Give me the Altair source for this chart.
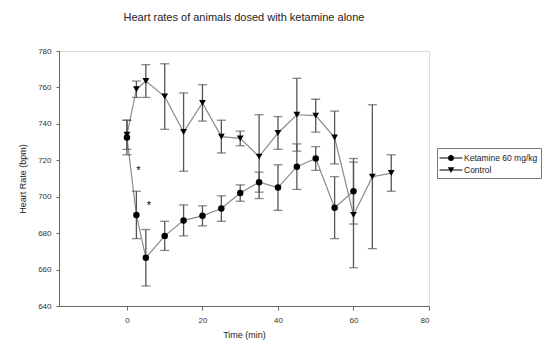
import altair as alt
import pandas as pd

# ---- data ----
ket_time = [0, 2.5, 5, 10, 15, 20, 25, 30, 35, 40, 45, 50, 55, 60]
ket_mean = [732.5, 690, 666.5, 678.5, 687, 689.5, 693.5, 702, 708, 705, 716.5, 721, 694, 703]
ket_err = [9.5, 13, 15.5, 8, 8.5, 5.5, 7, 4.5, 5.5, 12.5, 12.5, 6.5, 17, 18]

ctl_time = [0, 2.5, 5, 10, 15, 20, 25, 30, 35, 40, 45, 50, 55, 60, 65, 70]
ctl_mean = [734, 759, 763.5, 755, 735.5, 751.5, 733, 732, 722, 735, 745, 744.5, 732.5, 690, 711, 713]
ctl_err = [8, 4.5, 9, 18, 21.5, 10, 9, 4, 23, 9, 20, 9, 14.5, 29, 39.5, 10]

series_names = ["Ketamine 60 mg/kg", "Control"]
star_time = [3, 5.8]
star_value = [714, 695]

rows = []
for t, m, e in zip(ket_time, ket_mean, ket_err):
    rows.append({"time": t, "hr": m, "lo": m - e, "hi": m + e, "series": series_names[0]})
for t, m, e in zip(ctl_time, ctl_mean, ctl_err):
    rows.append({"time": t, "hr": m, "lo": m - e, "hi": m + e, "series": series_names[1]})
df = pd.DataFrame(rows)
stars = pd.DataFrame({"time": star_time, "hr": star_value, "txt": ["*", "*"]})

FONT = "Liberation Sans"

xs = alt.Scale(domain=[-18, 80], nice=False, zero=False)
ys = alt.Scale(domain=[640, 780], nice=False, zero=False)

x_axis = alt.Axis(values=[0, 20, 40, 60, 80], title="Time (min)", grid=False,
                  labelOverlap=False, tickSize=4, labelPadding=6, titlePadding=6)
y_axis = alt.Axis(values=[640, 660, 680, 700, 720, 740, 760, 780],
                  title="Heart Rate (bpm)", grid=False, labelOverlap=False,
                  tickSize=3, labelPadding=5, titlePadding=10)


def X():
    return alt.X("time:Q", scale=xs, axis=x_axis)


def Y(field):
    return alt.Y(field + ":Q", scale=ys, axis=y_axis)


base = alt.Chart(df)

lines = base.mark_line(color="#8a8a8a", strokeWidth=1.2).encode(
    x=X(), y=Y("hr"), detail="series:N", order="time:Q")

bars = base.mark_rule(color="#555", strokeWidth=1.3).encode(
    x=X(), y=Y("lo"), y2="hi:Q")

cap_lo = base.mark_tick(color="#555", thickness=1.3, size=9, orient="horizontal").encode(
    x=X(), y=Y("lo"))
cap_hi = base.mark_tick(color="#555", thickness=1.3, size=9, orient="horizontal").encode(
    x=X(), y=Y("hi"))

pts_ket = base.transform_filter(alt.datum.series == series_names[0]).mark_point(
    filled=True, color="black", size=42, opacity=1, shape="circle").encode(
    x=X(), y=Y("hr"))
pts_ctl = base.transform_filter(alt.datum.series == series_names[1]).mark_point(
    filled=True, color="black", size=46, opacity=1, shape="triangle-down").encode(
    x=X(), y=Y("hr"))

# legend-only layer: filled symbols shaped as a short line through the marker
bar_path = "M-1.64,-0.07 L1.64,-0.07 L1.64,0.07 L-1.64,0.07 Z "
legend_paths = [
    bar_path + "M0.43,0 A0.43,0.43 0 1,1 -0.43,0 A0.43,0.43 0 1,1 0.43,0 Z",
    bar_path + "M-0.46,-0.38 L0.46,-0.38 L0,0.42 Z",
]
legend_layer = base.transform_filter("datum.time < -1000").mark_point(
    filled=True, fill="black", strokeWidth=0, opacity=1).encode(
    x=X(), y=Y("hr"),
    shape=alt.Shape("series:N",
                    scale=alt.Scale(domain=series_names, range=legend_paths),
                    legend=alt.Legend(title=None, orient="none", legendX=378, legendY=97,
                                      labelFont=FONT, labelFontSize=8.5, labelColor="#222",
                                      strokeColor="#777", padding=3, rowPadding=0,
                                      symbolFillColor="black", symbolStrokeWidth=0,
                                      symbolOpacity=1, symbolSize=196, symbolOffset=4,
                                      labelLimit=200, labelOffset=6)))

star_text = alt.Chart(stars).mark_text(font=FONT, fontSize=11, color="black").encode(
    x=X(), y=Y("hr"), text="txt:N")

chart = alt.layer(lines, bars, cap_lo, cap_hi, pts_ket, pts_ctl, star_text, legend_layer).properties(
    width=370, height=255,
    padding={"left": 51, "top": 43, "right": 120, "bottom": 40},
    autosize=alt.AutoSizeParams(type="none"),
    title=alt.Title("Heart rates of animals dosed with ketamine alone", font=FONT,
                    fontSize=11, fontWeight="normal", color="#222", offset=24, anchor="middle"),
).configure_view(stroke="#777", strokeWidth=1.5).configure(background="white").configure_axis(
    labelFont=FONT, labelFontSize=8, labelColor="#333",
    titleFont=FONT, titleFontSize=9, titleFontWeight="normal", titleColor="#222",
    domainColor="#666", tickColor="#666")

chart.save("out.html", embed_options={"renderer": "svg", "actions": False})
